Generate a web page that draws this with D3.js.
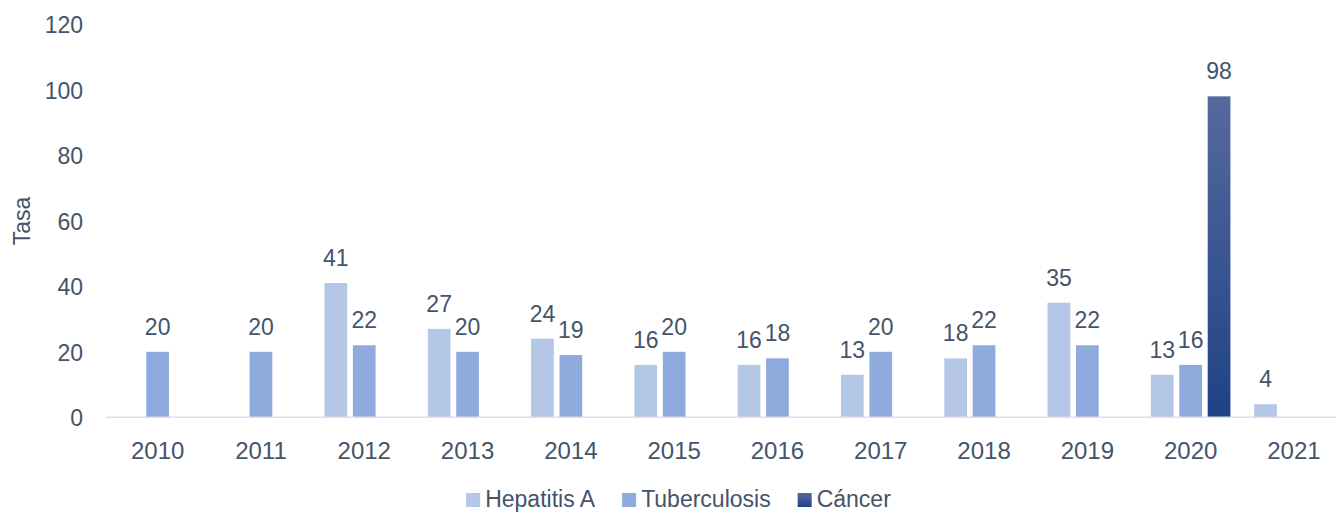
<!DOCTYPE html>
<html>
<head>
<meta charset="utf-8">
<script src="https://cdn.jsdelivr.net/npm/d3@7"></script>
<style>
  html, body { margin: 0; padding: 0; background: #fff; }
  svg { display: block; }
  text { font-family: "Liberation Sans", Arial, sans-serif; fill: #44546a; }
</style>
</head>
<body>
<svg id="chart" width="1336" height="512"></svg>
<script>
const years = ["2010","2011","2012","2013","2014","2015","2016","2017","2018","2019","2020","2021"];
const hepatitisA = [null, null, 41, 27, 24, 16, 16, 13, 18, 35, 13, 4];
const tuberculosis = [20, 20, 22, 20, 19, 20, 18, 20, 22, 22, 16, null];
const cancer = [null, null, null, null, null, null, null, null, null, null, 98, null];
const seriesNames = ["Hepatitis A", "Tuberculosis", "Cáncer"];
const yTicks = [0, 20, 40, 60, 80, 100, 120];

const seriesValues = [hepatitisA, tuberculosis, cancer];
const colors = ["#b4c7e7", "#8faadc", "url(#cancerGrad)"];

const svg = d3.select("#chart");
const defs = svg.append("defs");
const grad = defs.append("linearGradient").attr("id", "cancerGrad")
  .attr("x1", 0).attr("y1", 0).attr("x2", 0).attr("y2", 1);
grad.append("stop").attr("offset", "0%").attr("stop-color", "#56699e");
grad.append("stop").attr("offset", "100%").attr("stop-color", "#1f4286");

const x0 = d3.scaleBand().domain(years).range([106, 1345.6]).paddingInner(0.175).paddingOuter(0.0875);
const x1 = d3.scaleBand().domain(seriesNames).range([0, x0.bandwidth()]).paddingInner(0.2).paddingOuter(0.1);
const y = d3.scaleLinear().domain([0, 120]).range([417.3, 24.3]);

// y tick labels
const yAxis = d3.axisLeft(y).tickValues(yTicks).tickSize(0).tickPadding(0);
const gy = svg.append("g").attr("transform", "translate(83,0)").call(yAxis);
gy.select(".domain").remove();
gy.selectAll("text").attr("font-size", "23px").attr("dy", "0.36em")
  .style("font-family", '"Liberation Sans", Arial, sans-serif').attr("fill", "#44546a");

// y title
svg.append("text").attr("transform", "translate(30,221) rotate(-90)")
  .attr("text-anchor", "middle").attr("font-size", "23px").text("Tasa");

// bars
const data = [];
years.forEach((yr, i) => {
  seriesNames.forEach((s, j) => {
    const v = seriesValues[j][i];
    if (v !== null && v !== undefined) data.push({ year: yr, series: s, j: j, value: v });
  });
});

svg.append("g").selectAll("rect").data(data).join("rect")
  .attr("x", d => x0(d.year) + x1(d.series))
  .attr("y", d => y(d.value))
  .attr("width", x1.bandwidth())
  .attr("height", d => y(0) - y(d.value))
  .attr("fill", d => colors[d.j]);

// baseline
svg.append("line").attr("x1", 106).attr("x2", 1336)
  .attr("y1", y(0)).attr("y2", y(0))
  .attr("stroke", "#dbe0ea").attr("stroke-width", 1.5);

// data labels
svg.append("g").selectAll("text").data(data).join("text")
  .attr("x", d => x0(d.year) + x1(d.series) + x1.bandwidth() / 2)
  .attr("y", d => y(d.value) - 17)
  .attr("text-anchor", "middle").attr("font-size", "23px")
  .text(d => d.value);

// x axis labels
const xAxis = d3.axisBottom(x0).tickSize(0).tickPadding(0);
const gx = svg.append("g").call(xAxis);
gx.select(".domain").remove();
gx.selectAll("text").attr("font-size", "24px").attr("y", 459).attr("dy", null)
  .style("font-family", '"Liberation Sans", Arial, sans-serif').attr("fill", "#44546a");

// legend
const legend = svg.append("g");
const items = seriesNames.map((s, j) => {
  const g = legend.append("g");
  g.append("rect").attr("width", 14).attr("height", 14).attr("y", 493).attr("fill", colors[j]);
  const t = g.append("text").attr("x", 19).attr("y", 507).attr("font-size", "23px").text(s);
  return { g, w: 19 + t.node().getComputedTextLength() };
});
const gapL = 27;
const totalW = d3.sum(items, d => d.w) + gapL * (items.length - 1);
let cx = 678.5 - totalW / 2;
items.forEach(it => { it.g.attr("transform", `translate(${cx},0)`); cx += it.w + gapL; });
</script>
</body>
</html>
